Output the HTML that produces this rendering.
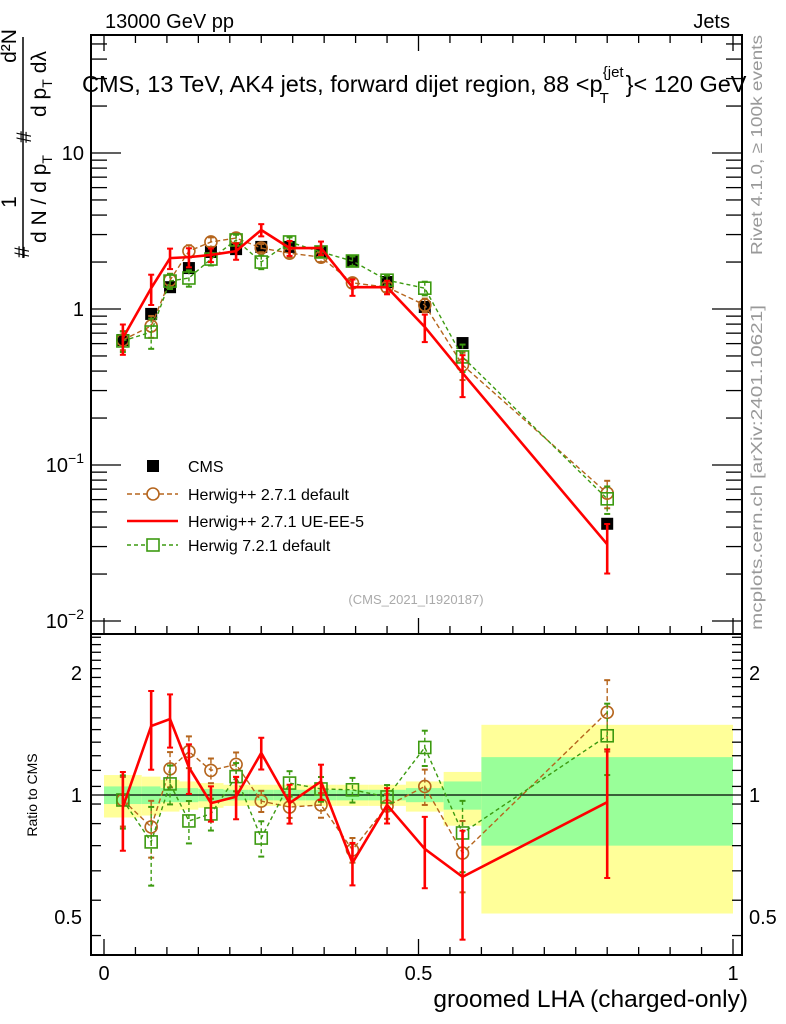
<!DOCTYPE html>
<html><head><meta charset="utf-8">
<style>
body{margin:0;background:#fff;}
svg{display:block;font-family:"Liberation Sans",sans-serif;}
</style></head>
<body>
<svg id="c" width="786" height="1024" xmlns="http://www.w3.org/2000/svg">
<g id="bands"></g>
<g id="frame">
<rect x="91" y="35" width="651" height="599" fill="none" stroke="#000" stroke-width="2"/>
<rect x="91" y="634" width="651" height="321" fill="none" stroke="#000" stroke-width="2"/>
</g>
<g id="ticks"></g>
<g id="marks"></g>
<text x="105" y="28" font-size="20">13000 GeV pp</text>
<text x="730" y="28" font-size="20" text-anchor="end">Jets</text>
<text x="82" y="92" font-size="23.5">CMS, 13 TeV, AK4 jets, forward dijet region, 88 &lt;p<tspan font-size="15" dx="-3" dy="11">T</tspan><tspan font-size="15" dx="-6" dy="-26">{jet</tspan><tspan dx="2" dy="15">}&lt; 120 GeV</tspan></text>
<g>
<line x1="23" y1="37" x2="23" y2="258" stroke="#000" stroke-width="1.5"/>
<text transform="translate(29,252) rotate(-90)" font-size="21" text-anchor="middle">#</text>
<text transform="translate(16,202) rotate(-90)" font-size="21" text-anchor="middle">1</text>
<text transform="translate(31,137) rotate(-90)" font-size="21" text-anchor="middle">#</text>
<text transform="translate(16,46) rotate(-90)" font-size="21" text-anchor="middle">d²N</text>
<text transform="translate(46,243) rotate(-90)" font-size="21">d N / d p<tspan font-size="14" dy="6">T</tspan></text>
<text transform="translate(46,117) rotate(-90)" font-size="21">d p<tspan font-size="14" dy="6">T</tspan><tspan dx="6" dy="-6">dλ</tspan></text>
</g>
<text transform="translate(762,255) rotate(-90)" font-size="16" fill="#999" textLength="220" lengthAdjust="spacingAndGlyphs">Rivet 4.1.0, ≥ 100k events</text>
<text transform="translate(762,630) rotate(-90)" font-size="16" fill="#999" textLength="325" lengthAdjust="spacingAndGlyphs">mcplots.cern.ch [arXiv:2401.10621]</text>
<text x="416" y="604" font-size="13" fill="#aaa" text-anchor="middle">(CMS_2021_I1920187)</text>
<text transform="translate(37,795) rotate(-90)" font-size="14" text-anchor="middle">Ratio to CMS</text>
<text x="748" y="1007" font-size="24.5" text-anchor="end">groomed LHA (charged-only)</text>
<g id="legend"></g>
</svg>
<script>
const edges=[0,0.06,0.09,0.12,0.15,0.19,0.23,0.27,0.32,0.37,0.42,0.48,0.54,0.6,1.0];
const xs=[0.03,0.075,0.105,0.135,0.17,0.21,0.25,0.295,0.345,0.395,0.45,0.51,0.57,0.8];
const cms=[0.633,0.93,1.38,1.83,2.32,2.42,2.5,2.5,2.32,2.03,1.49,1.03,0.605,0.042];
const hwDef=[0.633,0.778,1.53,2.35,2.69,2.85,2.46,2.28,2.15,1.47,1.38,1.06,0.438,0.066];
const hwUE=[0.652,1.36,2.12,2.15,2.22,2.35,3.21,2.46,2.46,1.38,1.38,0.767,0.389,0.031];
const h7=[0.624,0.712,1.51,1.58,2.09,2.77,2.0,2.69,2.32,2.03,1.53,1.36,0.493,0.0607];
const rDef=[0.972,0.834,1.16,1.28,1.15,1.19,0.966,0.934,0.945,0.732,0.939,1.05,0.719,1.60];
const rUE=[0.934,1.48,1.54,1.17,0.955,0.99,1.27,0.955,1.08,0.68,0.945,0.736,0.628,0.96];
const rH7=[0.972,0.766,1.065,0.863,0.898,1.11,0.783,1.07,1.035,1.03,0.989,1.31,0.806,1.40];
const eDef=[0.14,0.16,0.1,0.09,0.07,0.07,0.06,0.06,0.07,0.07,0.07,0.1,0.2,0.2];
const eUE=[0.22,0.22,0.15,0.14,0.1,0.12,0.09,0.11,0.1,0.12,0.1,0.2,0.3,0.35];
const eH7=[0.15,0.22,0.11,0.12,0.09,0.08,0.1,0.07,0.07,0.07,0.07,0.1,0.2,0.2];
const yHi=[1.12,1.11,1.09,1.08,1.07,1.06,1.06,1.06,1.06,1.06,1.06,1.08,1.14,1.49];
const yLo=[0.88,0.89,0.91,0.92,0.93,0.94,0.94,0.94,0.94,0.94,0.94,0.91,0.84,0.51];
const gHi=[1.05,1.05,1.04,1.04,1.035,1.03,1.03,1.03,1.03,1.03,1.03,1.04,1.08,1.24];
const gLo=[0.95,0.95,0.96,0.96,0.965,0.97,0.97,0.97,0.97,0.97,0.97,0.96,0.92,0.75];
const xTickVals=[0,0.5,1];
const xTickLabels=["0","0.5","1"];
const yDecades=[1,0,-1,-2];
const yTickLabels=["10","1","10","10"];
const rTickVals=[2,1,0.5];
const rTickLabels=["2","1","0.5"];

const NS="http://www.w3.org/2000/svg";
const X=v=>104+629*v;
const Y=v=>309-156*Math.log10(v);
const R=v=>795-405.3*Math.log10(v);
function mk(tag,attrs,parent){const e=document.createElementNS(NS,tag);for(const k in attrs)e.setAttribute(k,attrs[k]);parent.appendChild(e);return e;}
const bands=document.getElementById('bands'),ticks=document.getElementById('ticks'),marks=document.getElementById('marks'),legend=document.getElementById('legend');

for(let i=0;i<xs.length;i++){
  const x0=X(edges[i]),x1=X(edges[i+1]);
  let b=mk('rect',{x:x0,y:R(yHi[i]),width:x1-x0,height:R(yLo[i])-R(yHi[i]),fill:'#ffff99'},bands);
  
  
  b=mk('rect',{x:x0,y:R(gHi[i]),width:x1-x0,height:R(gLo[i])-R(gHi[i]),fill:'#99ff99'},bands);
  
  
}
mk('line',{x1:91,y1:R(1),x2:742,y2:R(1),stroke:'#000','stroke-width':1.3},bands);

for(let k=0;k<=20;k++){
  const v=k*0.05,x=X(v),big=k%10==0,len=big?16:8;
  mk('line',{x1:x,y1:634,x2:x,y2:634-len,stroke:'#000','stroke-width':1.3},ticks);
  mk('line',{x1:x,y1:955,x2:x,y2:955-len,stroke:'#000','stroke-width':1.3},ticks);
  mk('line',{x1:x,y1:35,x2:x,y2:35+len,stroke:'#000','stroke-width':1.3},ticks);
}
xTickVals.forEach((v,i)=>{const t=mk('text',{x:X(v),y:980,'font-size':20,'text-anchor':'middle'},ticks);t.textContent=xTickLabels[i];
});
for(let d=-2;d<=1;d++){for(let m=1;m<10;m++){const v=m*Math.pow(10,d),y=Y(v);if(y<36||y>633)continue;const len=m==1?30:16;
 mk('line',{x1:91,y1:y,x2:91+len,y2:y,stroke:'#000','stroke-width':1.3},ticks);
 mk('line',{x1:742,y1:y,x2:742-len,y2:y,stroke:'#000','stroke-width':1.3},ticks);}}
yDecades.forEach((d,i)=>{const y=Y(Math.pow(10,d));const t=mk('text',{x:84,y:y+7,'font-size':20,'text-anchor':'end'},ticks);
 t.textContent=yTickLabels[i];
 if(d<0){const s=mk('tspan',{'font-size':14,dy:-9},t);s.textContent='−'+(-d);}
 });
for(let k=0;k<30;k++){const v=0.45+k*0.1;const y=R(v);if(y<636||y>953)continue;const big=Math.abs(v-0.5)<1e-6||Math.abs(v-1)<1e-6||Math.abs(v-2)<1e-6;const len=big?20:10;
 mk('line',{x1:91,y1:y,x2:91+len,y2:y,stroke:'#000','stroke-width':1.3},ticks);
 mk('line',{x1:742,y1:y,x2:742-len,y2:y,stroke:'#000','stroke-width':1.3},ticks);}
rTickVals.forEach((v,i)=>{let t=mk('text',{x:82,y:R(v)+7,'font-size':20,'text-anchor':'end'},ticks);t.textContent=rTickLabels[i];

t=mk('text',{x:749,y:R(v)+7,'font-size':20},ticks);t.textContent=rTickLabels[i];
});

function series(vals,errs,Yf,color,dash,marker,width,name){
  const g=mk('g',{},marks);
  
  
  mk('polyline',{points:vals.map((v,i)=>X(xs[i])+','+Yf(v)).join(' '),fill:'none',stroke:color,'stroke-width':width,'stroke-dasharray':dash},g);
  vals.forEach((v,i)=>{const x=X(xs[i]),y1=Yf(v*(1+errs[i])),y2=Yf(v*(1-errs[i]));
    mk('line',{x1:x,y1:y1,x2:x,y2:y2,stroke:color,'stroke-width':width,'stroke-dasharray':dash},g);
    mk('line',{x1:x-3,y1:y1,x2:x+3,y2:y1,stroke:color,'stroke-width':2},g);
    mk('line',{x1:x-3,y1:y2,x2:x+3,y2:y2,stroke:color,'stroke-width':2},g);
    const y=Yf(v);
    if(marker=='circle')mk('circle',{cx:x,cy:y,r:6,fill:'none',stroke:color,'stroke-width':1.6},g);
    if(marker=='square')mk('rect',{x:x-6,y:y-6,width:12,height:12,fill:'none',stroke:color,'stroke-width':1.6},g);
  });
}
const cg=mk('g',{},marks);


cms.forEach((v,i)=>{mk('rect',{x:X(xs[i])-6,y:Y(v)-6,width:12,height:12,fill:'#000'},cg);});
series(hwDef,eDef,Y,'#b5651d','5,3','circle',1.4,'herwigpp-default-main');
series(h7,eH7,Y,'#3c9a10','4,3','square',1.4,'herwig7-default-main');
series(hwUE,eUE,Y,'#ff0000','none','none',2.6,'herwigpp-ue-main');
series(rDef,eDef,R,'#b5651d','5,3','circle',1.4,'herwigpp-default-ratio');
series(rH7,eH7,R,'#3c9a10','4,3','square',1.4,'herwig7-default-ratio');
series(rUE,eUE,R,'#ff0000','none','none',2.6,'herwigpp-ue-ratio');

const L=[['CMS','#000','none','fill'],['Herwig++ 2.7.1 default','#b5651d','5,3','circle'],['Herwig++ 2.7.1 UE-EE-5','#ff0000','none','line'],['Herwig 7.2.1 default','#3c9a10','4,3','square']];
const ly=[466,494,521,545];
L.forEach((e,i)=>{const g=mk('g',{},legend);
  
  
  const y=ly[i];
  if(e[3]=='fill')mk('rect',{x:147,y:y-6,width:12,height:12,fill:'#000'},g);
  else{mk('line',{x1:127,y1:y,x2:178,y2:y,stroke:e[1],'stroke-width':e[3]=='line'?2.6:1.4,'stroke-dasharray':e[2]},g);
    if(e[3]=='circle')mk('circle',{cx:153,cy:y,r:6,fill:'#fff',stroke:e[1],'stroke-width':1.6},g);
    if(e[3]=='square')mk('rect',{x:147,y:y-6,width:12,height:12,fill:'#fff',stroke:e[1],'stroke-width':1.6},g);}
  const t=mk('text',{x:188,y:y+6,'font-size':16},g);t.textContent=e[0];});
</script>
</body></html>
